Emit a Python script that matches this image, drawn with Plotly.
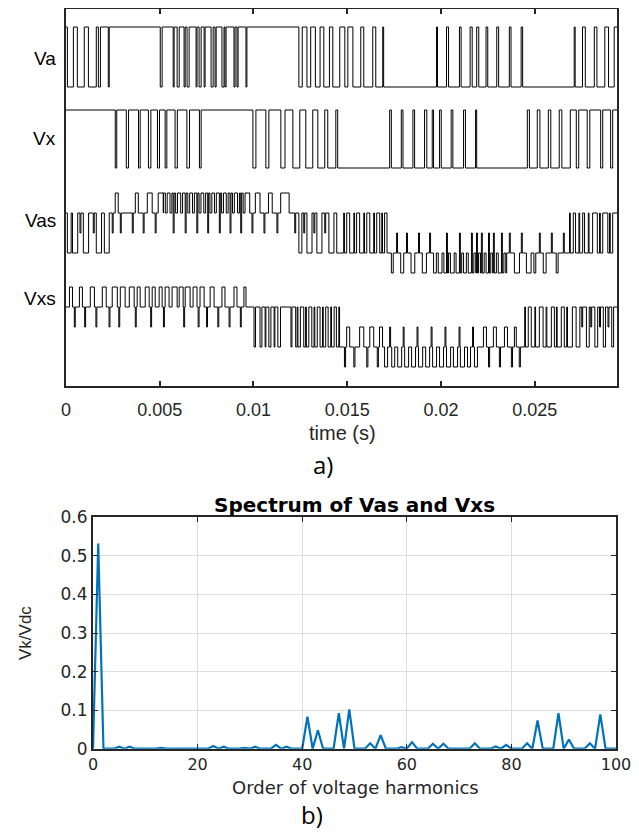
import numpy as np
import plotly.graph_objects as go

# ---------------- data: top panel (times in ms) ----------------
T_END_MS = 29.38

va_base_t = [0.0, 14.87]
va_base_lvl = [1, 0]
va_pulses = [
    [0.08, 0.40, 0], [0.61, 0.98, 0], [1.20, 1.62, 0], [1.73, 1.84, 0], [2.26, 2.31, 0],
    [5.03, 5.13, 0], [5.72, 5.77, 0], [5.93, 6.04, 0], [6.30, 6.36, 0], [6.46, 6.57, 0],
    [6.94, 6.99, 0], [7.10, 7.21, 0], [7.37, 7.42, 0], [7.74, 7.85, 0], [7.95, 8.01, 0],
    [8.32, 8.43, 0], [8.48, 8.54, 0], [8.96, 9.02, 0], [9.12, 9.18, 0], [9.60, 9.65, 0],
    [12.42, 12.60, 0], [12.85, 13.05, 0], [13.30, 13.55, 0], [13.75, 14.05, 0], [14.23, 14.60, 0],
    [15.03, 15.30, 1], [15.72, 15.88, 1], [16.36, 16.52, 1], [16.89, 16.94, 1],
    [19.76, 19.81, 1], [20.29, 20.40, 1], [20.98, 21.07, 1], [21.55, 21.66, 1], [21.90, 22.01, 1],
    [22.40, 22.49, 1], [22.97, 23.07, 1], [23.64, 23.73, 1], [24.27, 24.35, 1],
    [27.10, 27.15, 1], [27.54, 27.69, 1], [28.17, 28.31, 1], [28.73, 28.93, 1], [29.23, 29.38, 1],
]

vx_base_t = [0.0, 14.49, 26.89]
vx_base_lvl = [1, 0, 1]
vx_pulses = [
    [2.63, 2.71, 0], [3.22, 3.34, 0], [3.87, 3.96, 0], [4.40, 4.53, 0], [4.88, 4.99, 0],
    [5.29, 5.38, 0], [5.82, 5.94, 0], [6.45, 6.59, 0], [7.12, 7.21, 0],
    [9.97, 10.13, 0], [10.66, 10.82, 0], [11.46, 11.68, 0], [12.10, 12.47, 0],
    [12.79, 13.16, 0], [13.43, 13.80, 0], [13.96, 14.39, 0],
    [17.26, 17.35, 1], [17.88, 17.97, 1], [18.50, 18.59, 1], [19.12, 19.24, 1], [19.53, 19.60, 1],
    [19.92, 20.01, 1], [20.54, 20.63, 1], [21.20, 21.30, 1], [21.84, 21.90, 1],
    [24.60, 24.71, 1], [25.13, 25.27, 1], [25.72, 25.85, 1], [26.30, 26.44, 1],
    [27.21, 27.34, 0], [27.79, 27.93, 0], [28.51, 28.62, 0], [29.04, 29.15, 0],
]

vas_base_t = [0.0, 5.2, 9.8, 14.7, 19.6, 23.5]
vas_base_lvl = [1, 2, 1, -1, -2, -1]
vas_pulses = [
    [0.08, 0.28, -1], [0.35, 0.63, -1], [0.93, 1.21, -1], [1.62, 1.90, -1], [2.05, 2.31, -1],
    [0.75, 0.80, 0], [1.46, 1.51, 0], [2.47, 2.52, 0],
    [2.63, 2.79, 2], [3.70, 3.86, 2], [4.34, 4.60, 2], [4.92, 5.19, 2],
    [2.90, 2.95, 0], [3.54, 3.59, 0], [4.12, 4.17, 0], [4.76, 4.81, 0],
    [5.30, 5.40, 1], [5.55, 5.65, 1], [5.85, 5.95, 1], [6.12, 6.22, 1], [6.50, 6.60, 1],
    [6.75, 6.85, 1], [7.10, 7.20, 1], [7.35, 7.45, 1], [7.68, 7.78, 1], [7.92, 8.02, 1],
    [8.30, 8.40, 1], [8.55, 8.65, 1], [8.88, 8.98, 1], [9.15, 9.25, 1], [9.45, 9.55, 1],
    [5.72, 5.77, 0], [6.36, 6.41, 0], [6.98, 7.03, 0], [7.56, 7.61, 0], [8.18, 8.23, 0],
    [8.75, 8.80, 0], [9.32, 9.37, 0],
    [10.10, 10.35, 2], [10.80, 11.00, 2], [11.45, 11.90, 2],
    [9.92, 9.97, 0], [10.56, 10.61, 0], [11.25, 11.30, 0],
    [12.42, 12.58, -1], [12.85, 13.12, -1], [13.38, 13.65, -1], [14.02, 14.29, -1], [14.44, 14.70, -1],
    [12.20, 12.25, 0], [12.68, 12.73, 0], [13.22, 13.27, 0], [13.80, 13.85, 0],
    [14.97, 15.13, 1], [15.50, 15.66, 1], [16.04, 16.20, 1], [16.57, 16.73, 1], [16.99, 17.12, 1],
    [14.81, 14.85, 1], [15.35, 15.39, 1], [15.88, 15.92, 1], [16.41, 16.45, 1], [16.84, 16.88, 1],
    [17.35, 17.45, -2], [17.85, 18.01, -2], [18.40, 18.60, -2], [19.00, 19.22, -2],
    [17.63, 17.68, 0], [18.16, 18.21, 0], [18.80, 18.85, 0], [19.39, 19.44, 0],
    [19.75, 19.85, -1], [20.05, 20.15, -1], [20.40, 20.50, -1], [20.70, 20.80, -1],
    [21.10, 21.20, -1], [21.35, 21.45, -1], [21.75, 21.85, -1], [22.00, 22.10, -1],
    [22.30, 22.40, -1], [22.65, 22.75, -1], [22.95, 23.05, -1], [23.35, 23.45, -1],
    [20.29, 20.34, 0], [20.98, 21.03, 0], [21.62, 21.67, 0], [21.89, 21.94, 0],
    [22.15, 22.20, 0], [22.53, 22.58, 0], [22.79, 22.84, 0], [23.22, 23.27, 0],
    [23.64, 23.69, 0], [24.28, 24.33, 0], [25.24, 25.29, 0], [25.88, 25.93, 0], [26.52, 26.57, 0],
    [23.91, 24.18, -2], [24.55, 24.80, -2], [24.95, 25.05, -2], [25.45, 25.60, -2], [26.14, 26.24, -2],
    [27.05, 27.17, 1], [27.55, 27.65, 1], [28.08, 28.33, 1], [28.62, 28.89, 1], [29.15, 29.38, 1],
    [26.85, 26.89, 1], [27.35, 27.39, 1], [27.85, 27.89, 1], [28.45, 28.49, 1], [28.98, 29.02, 1],
]

vxs_base_t = [0.0, 12.0, 27.0]
vxs_base_lvl = [1, -1, 1]
vxs_pulses = [
    [0.19, 0.35, 2], [0.72, 0.88, 2], [1.30, 1.52, 2], [1.94, 2.15, 2], [2.47, 2.74, 2],
    [2.90, 3.16, 2], [3.38, 3.64, 2], [3.80, 3.96, 2], [4.23, 4.44, 2], [4.60, 4.76, 2],
    [4.97, 5.13, 2], [5.29, 5.50, 2], [5.66, 5.93, 2], [6.04, 6.25, 2], [6.36, 6.62, 2],
    [6.78, 6.99, 2], [7.15, 7.37, 2], [7.69, 7.90, 2], [8.32, 8.48, 2], [8.96, 9.12, 2],
    [9.49, 9.60, 2],
    [0.45, 0.50, 0], [1.00, 1.05, 0], [1.60, 1.65, 0], [2.30, 2.35, 0], [2.82, 2.87, 0],
    [3.70, 3.75, 0], [4.52, 4.57, 0], [5.20, 5.25, 0], [6.28, 6.33, 0], [7.05, 7.10, 0],
    [7.50, 7.55, 0], [8.10, 8.15, 0], [8.70, 8.75, 0], [9.30, 9.35, 0],
    [10.03, 10.11, -1], [10.35, 10.45, -1], [10.82, 10.93, -1], [11.30, 11.44, -1],
    [10.62, 10.66, -1], [11.10, 11.14, -1],
    [12.05, 12.25, 1], [12.50, 12.68, 1], [12.95, 13.11, 1], [13.40, 13.55, 1],
    [13.85, 13.98, 1], [14.30, 14.42, 1],
    [12.33, 12.37, 1], [12.78, 12.82, 1], [13.23, 13.27, 1], [13.68, 13.72, 1],
    [14.12, 14.16, 1], [14.55, 14.59, 1],
    [14.97, 15.13, 0], [15.66, 15.88, 0], [16.20, 16.41, 0], [16.72, 16.88, 0],
    [14.85, 14.91, -2], [15.35, 15.41, -2], [16.04, 16.10, -2], [16.60, 16.66, -2],
    [16.99, 17.15, -2], [17.37, 17.53, -2], [17.69, 17.90, -2], [18.06, 18.27, -2],
    [18.43, 18.64, -2], [18.80, 19.02, -2], [19.18, 19.39, -2], [19.55, 19.76, -2],
    [19.92, 20.13, -2], [20.29, 20.51, -2], [20.66, 20.88, -2], [21.03, 21.25, -2],
    [21.41, 21.57, -2], [21.78, 21.94, -2],
    [17.26, 17.31, 0], [17.98, 18.03, 0], [18.72, 18.77, 0], [19.47, 19.52, 0],
    [20.21, 20.26, 0], [20.96, 21.01, 0], [21.68, 21.73, 0],
    [22.26, 22.42, 0], [22.79, 22.95, 0], [23.38, 23.54, 0], [23.91, 24.01, 0],
    [22.53, 22.59, -2], [23.11, 23.17, -2], [23.75, 23.81, -2], [24.17, 24.23, -2],
    [24.65, 24.81, 1], [25.24, 25.44, 1], [25.88, 26.04, 1], [26.41, 26.57, 1],
    [24.46, 24.50, 1], [25.00, 25.04, 1], [25.60, 25.64, 1], [26.15, 26.19, 1], [26.70, 26.74, 1],
    [27.20, 27.40, -1], [27.75, 27.90, -1], [28.20, 28.35, -1], [28.65, 28.77, -1], [29.10, 29.20, -1],
    [27.50, 27.55, 0], [27.98, 28.03, 0], [28.45, 28.50, 0], [28.90, 28.95, 0],
]

signal_names = ["Va", "Vx", "Vas", "Vxs"]
time_ticks = [0, 0.005, 0.01, 0.015, 0.02, 0.025]
time_tick_text = ["0", "0.005", "0.01", "0.015", "0.02", "0.025"]

# ---------------- data: bottom panel ----------------
harmonic_order = list(range(0, 101))
vk_vdc = [
    0, 0.532, 0, 0, 0, 0.005, 0, 0.005, 0, 0,
    0, 0, 0, 0.002, 0, 0, 0, 0, 0, 0,
    0, 0, 0, 0.007, 0, 0.005, 0, 0, 0, 0.002,
    0, 0.005, 0, 0, 0, 0.010, 0, 0.005, 0, 0,
    0, 0.083, 0, 0.048, 0, 0, 0, 0.092, 0, 0.102,
    0, 0, 0, 0.014, 0, 0.035, 0, 0, 0, 0.004,
    0, 0.017, 0, 0, 0, 0.013, 0, 0.013, 0, 0,
    0, 0, 0, 0.014, 0, 0, 0, 0.006, 0, 0.010,
    0, 0, 0, 0.014, 0, 0.073, 0, 0, 0, 0.092,
    0, 0.024, 0, 0, 0, 0.014, 0, 0.089, 0, 0,
    0,
]
harm_ticks = [0, 20, 40, 60, 80, 100]
vk_ticks = [0, 0.1, 0.2, 0.3, 0.4, 0.5, 0.6]
vk_tick_text = ["0", "0.1", "0.2", "0.3", "0.4", "0.5", "0.6"]


# ---------------- helpers ----------------
def steps(base_t, base_lvl, pulses, t_end):
    bounds = sorted(set([0.0, t_end] + list(base_t) +
                        [p[0] for p in pulses] + [p[1] for p in pulses]))
    bounds = [b for b in bounds if b <= t_end]
    xs, ys = [], []
    for i in range(len(bounds) - 1):
        mid = 0.5 * (bounds[i] + bounds[i + 1])
        lvl = None
        for s, e, l in pulses:
            if s <= mid < e:
                lvl = l
                break
        if lvl is None:
            idx = int(np.searchsorted(base_t, mid, side="right")) - 1
            lvl = base_lvl[idx]
        if ys and ys[-1] == lvl:
            continue
        xs.append(bounds[i])
        ys.append(lvl)
    xs.append(t_end)
    ys.append(ys[-1])
    return np.array(xs) / 1000.0, np.array(ys, dtype=float)


# page has an 8px body margin: figure is drawn at (8, 8) in the window
OFF = 8.0
W = 639.0 - OFF
H = 834.0 - OFF


def px(x):
    return (x - OFF) / W


def py(y):
    return 1 - (y - OFF) / H


# vertical placement of each waveform in the top panel (offset, scale)
placement = {
    "Va": (299, 60),
    "Vx": (218, 58),
    "Vas": (153, 20),
    "Vxs": (59, 20),
}
label_y = {"Va": 328, "Vx": 248, "Vas": 166, "Vxs": 88}

sources = {
    "Va": (va_base_t, va_base_lvl, va_pulses),
    "Vx": (vx_base_t, vx_base_lvl, vx_pulses),
    "Vas": (vas_base_t, vas_base_lvl, vas_pulses),
    "Vxs": (vxs_base_t, vxs_base_lvl, vxs_pulses),
}

fig = go.Figure()
for name in signal_names:
    bt, bl, pl = sources[name]
    x, y = steps(bt, bl, pl, T_END_MS)
    off, sc = placement[name]
    fig.add_trace(go.Scatter(
        x=x, y=off + sc * y, mode="lines", line=dict(color="black", width=1, shape="hv"),
        xaxis="x", yaxis="y", showlegend=False, hoverinfo="skip"))

fig.add_trace(go.Scatter(
    x=harmonic_order, y=vk_vdc, mode="lines",
    line=dict(color="#0072BD", width=2.2),
    xaxis="x2", yaxis="y2", showlegend=False))

axcol = "#262626"
tickfont = dict(family="Liberation Sans, Arial, sans-serif", size=18, color=axcol)
tickfont2 = dict(family="DejaVu Sans, Verdana, sans-serif", size=16, color=axcol)

fig.update_layout(
    width=int(W), height=int(H),
    margin=dict(l=0, r=0, t=0, b=0, autoexpand=False),
    paper_bgcolor="white", plot_bgcolor="white",
    xaxis=dict(
        domain=[px(65.9), px(617)], range=[0, T_END_MS / 1000.0], automargin=False,
        tickvals=time_ticks, ticktext=time_tick_text,
        ticks="inside", ticklen=5, tickwidth=1.5, tickcolor=axcol,
        showline=True, linecolor=axcol, linewidth=2.2, mirror="ticks",
        showgrid=False, zeroline=False, tickfont=tickfont, ticklabelstandoff=6,
    ),
    yaxis=dict(
        domain=[py(386), py(9)], range=[0, 377], automargin=False,
        showticklabels=False, ticks="",
        showline=True, linecolor=axcol, linewidth=2.2, mirror=True,
        showgrid=False, zeroline=False,
    ),
    xaxis2=dict(
        domain=[px(93), px(616)], range=[0, 100], anchor="y2", automargin=False,
        tickvals=harm_ticks, ticks="inside", ticklen=5, tickcolor=axcol,
        showline=True, linecolor=axcol, linewidth=2, mirror="ticks",
        showgrid=True, gridcolor="#dedede", gridwidth=1.2, zeroline=False,
        tickfont=tickfont2, ticklabelstandoff=0,
    ),
    yaxis2=dict(
        domain=[py(748.7), py(517.3)], range=[0, 0.6], anchor="x2", automargin=False,
        tickvals=vk_ticks, ticktext=vk_tick_text,
        ticks="inside", ticklen=5, tickcolor=axcol,
        showline=True, linecolor=axcol, linewidth=2, mirror="ticks",
        showgrid=True, gridcolor="#dedede", gridwidth=1.2, zeroline=False,
        tickfont=dict(family="DejaVu Sans, Verdana, sans-serif", size=17, color=axcol),
    ),
)

ann = []
for name in signal_names:
    ann.append(dict(text=name, x=px(58), y=label_y[name], xref="paper", yref="y",
                    xanchor="right", yanchor="middle", showarrow=False,
                    font=dict(family="Liberation Sans, Arial, sans-serif", size=19, color="black")))
ann.append(dict(text="time (s)", x=px(342), y=py(433), xref="paper", yref="paper",
                xanchor="center", yanchor="middle", showarrow=False,
                font=dict(family="Liberation Sans, Arial, sans-serif", size=20, color=axcol)))
ann.append(dict(text="a)", x=px(323), y=py(464), xref="paper", yref="paper",
                xanchor="center", yanchor="middle", showarrow=False,
                font=dict(family="Open Sans, sans-serif", size=24, color="black")))
ann.append(dict(text="<b>Spectrum of Vas and Vxs</b>", x=px(354), y=py(505),
                xref="paper", yref="paper", xanchor="center", yanchor="middle", showarrow=False,
                font=dict(family="DejaVu Sans, Verdana, sans-serif", size=20, color="black")))
ann.append(dict(text="Order of voltage harmonics", x=px(355), y=py(787),
                xref="paper", yref="paper", xanchor="center", yanchor="middle", showarrow=False,
                font=dict(family="DejaVu Sans, Verdana, sans-serif", size=18, color=axcol)))
ann.append(dict(text="Vk/Vdc", x=px(25), y=py(633), xref="paper", yref="paper",
                xanchor="center", yanchor="middle", showarrow=False, textangle=-90,
                font=dict(family="Liberation Sans, Arial, sans-serif", size=17, color=axcol)))
ann.append(dict(text="b)", x=px(312), y=py(814), xref="paper", yref="paper",
                xanchor="center", yanchor="middle", showarrow=False,
                font=dict(family="Open Sans, sans-serif", size=24, color="black")))
fig.update_layout(annotations=ann)

fig.write_html("out.html")
